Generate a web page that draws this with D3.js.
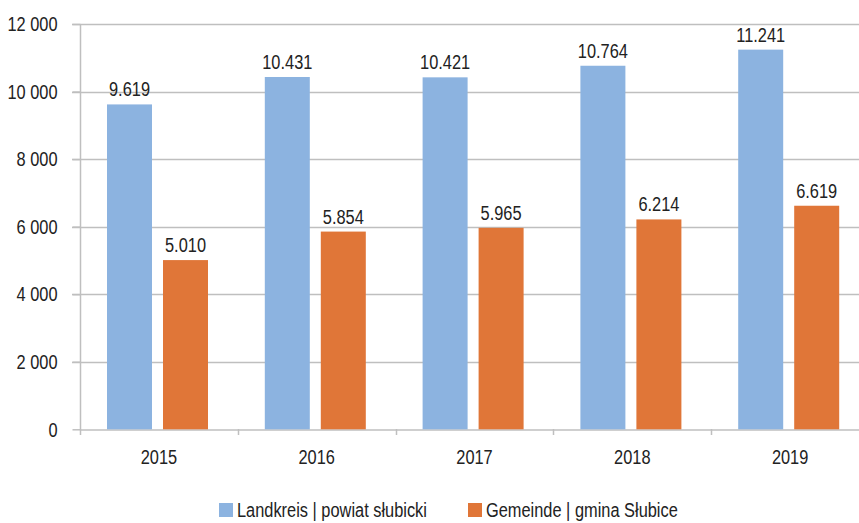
<!DOCTYPE html>
<html><head><meta charset="utf-8">
<script src="https://cdn.jsdelivr.net/npm/d3@7/dist/d3.min.js"></script>
<style>
body{margin:0;background:#fff;}
text{font-family:"Liberation Sans",Arial,sans-serif;fill:#222;}
</style></head><body>
<svg id="c" width="859" height="523"></svg>
<script>
const categories = ["2015","2016","2017","2018","2019"];
const landkreis = [9619,10431,10421,10764,11241];
const gemeinde = [5010,5854,5965,6214,6619];
const seriesNames = ["Landkreis | powiat słubicki","Gemeinde | gmina Słubice"];
const yTicks = [0,2000,4000,6000,8000,10000,12000];
const colors = ["#8CB3E0","#E07638"];

(function(){
const svg = d3.select("#c");
const pLeft = 80, pRight = 869, pTop = 24, pBottom = 429.3;
const x = d3.scaleBand().domain(categories).range([pLeft,pRight]);
const y = d3.scaleLinear().domain([0,12000]).range([pBottom,pTop]);
const bw = x.bandwidth();
const barW = 45, inner = 11, off = 27;
const SX = 0.78, FS = 21;

const fmtTick = d => d3.format(",")(d).replace(/,/g," ");
const fmtVal = d => d3.format(",")(d).replace(/,/g,".");

// grid
svg.append("g").selectAll("line").data(yTicks.filter(d=>d>0)).join("line")
  .attr("x1",72).attr("x2",859).attr("y1",d=>Math.round(y(d))+0.5).attr("y2",d=>Math.round(y(d))+0.5)
  .attr("stroke","#BFBFBF").attr("stroke-width",1.5);

// y axis
const ya = svg.append("g").attr("transform",`translate(${pLeft+0.5},0)`)
  .call(d3.axisLeft(y).tickValues(yTicks).tickFormat(fmtTick).tickSize(8).tickPadding(15));
ya.select(".domain").attr("stroke","#BFBFBF").attr("stroke-width",1.5).attr("d",`M0,${pTop}V${pBottom}`);
ya.selectAll(".tick line").attr("stroke","#BFBFBF").attr("stroke-width",1.5);
ya.selectAll(".tick text").attr("font-size",FS).attr("font-family",null).attr("fill","#222");

// x axis
const xa = svg.append("g").attr("transform",`translate(0,${Math.round(pBottom)+0.5})`)
  .call(d3.axisBottom(x).tickSize(0).tickPadding(20));
xa.select(".domain").attr("stroke","#BFBFBF").attr("stroke-width",1.5);
xa.selectAll(".tick text").attr("font-size",FS).attr("font-family",null).attr("fill","#222");
svg.append("g").selectAll("line").data(categories.concat(["end"])).join("line")
  .attr("x1",(d,i)=>Math.round(pLeft+i*bw)+0.5).attr("x2",(d,i)=>Math.round(pLeft+i*bw)+0.5)
  .attr("y1",Math.round(pBottom)).attr("y2",Math.round(pBottom)+6)
  .attr("stroke","#BFBFBF").attr("stroke-width",1.5);

const series = [landkreis, gemeinde];
series.forEach((vals,si)=>{
  const g = svg.append("g");
  g.selectAll("rect").data(vals).join("rect")
    .attr("x",(d,i)=>x(categories[i])+off+si*(barW+inner))
    .attr("y",d=>y(d)).attr("width",barW).attr("height",d=>pBottom-y(d))
    .attr("fill",colors[si]);
  g.selectAll("text").data(vals).join("text")
    .attr("x",(d,i)=>x(categories[i])+off+si*(barW+inner)+barW/2)
    .attr("y",d=>y(d)-8).attr("text-anchor","middle").attr("font-size",FS)
    .text(fmtVal);
});

// legend
const leg = svg.append("g");
const lx = [219,468];
seriesNames.forEach((n,i)=>{
  leg.append("rect").attr("x",lx[i]).attr("y",503).attr("width",14).attr("height",14).attr("fill",colors[i]);
  leg.append("text").attr("x",lx[i]+18).attr("y",517).attr("font-size",FS).text(n);
});

// condense all text horizontally
svg.selectAll("text").each(function(){
  const t = d3.select(this);
  const tx = +t.attr("x") || 0, ty = +t.attr("y") || 0;
  t.attr("x",0).attr("y",0).attr("transform",`translate(${tx},${ty}) scale(${SX},1)`);
});
})();
</script></body></html>
